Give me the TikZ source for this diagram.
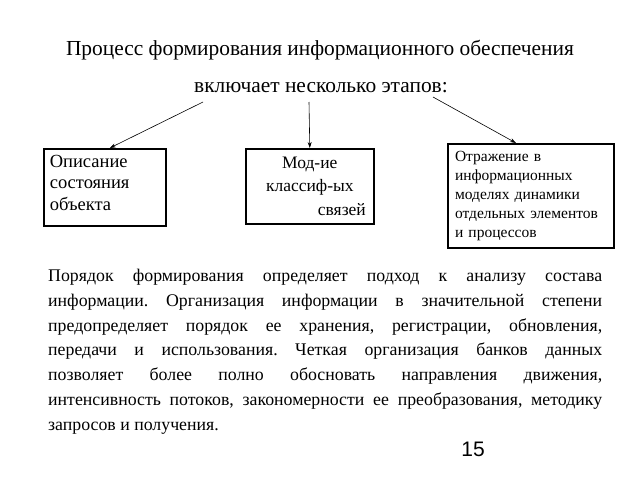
\documentclass[tikz,border=0pt]{standalone}
\usepackage{fontspec}
\setmainfont{Liberation Serif}
\newfontfamily\pagenumfont{Liberation Sans}
\usepackage{tikz}
\usetikzlibrary{arrows.meta, positioning}

\tikzset{
  stagebox/.style={rectangle, draw, line width=1.6pt, anchor=north west, inner sep=6pt, align=left},
  stagearrow/.style={-{Stealth[length=6pt,width=4pt]}, line width=0.6pt}
}

\begin{document}
\frenchspacing
\begin{tikzpicture}[x=1pt, y=-1pt]
    \useasboundingbox (0,0) rectangle (640,480);

    % Heading
    \node[font=\fontsize{21.4}{26}\selectfont] (title) at (320,50) {Процесс формирования информационного обеспечения};
    \node[font=\fontsize{21.4}{26}\selectfont] (stages) at (321,88) {включает несколько этапов:};

    % Stages
    \node[stagebox, minimum width=122pt, minimum height=77pt, text width=110pt,
          font=\fontsize{18.5}{21.5}\selectfont] (descr) at (43,148)
        {Описание\\состояния\\объекта\rule[-10pt]{0pt}{10pt}};
    \node[stagebox, minimum width=128pt, minimum height=75pt, text width=112pt, align=center,
          font=\fontsize{17.5}{23.5}\selectfont] (model) at (245,148)
        {Мод-ие\\классиф-ых\\\hfill связей};
    \node[stagebox, line width=2pt, minimum width=166pt, minimum height=104pt, text width=152pt,
          font=\fontsize{15.5}{19}\selectfont] (reflect) at (447,143)
        {Отражение в\\информационных\\моделях динамики\\отдельных элементов\\и процессов};

    % Arrows from the heading
    \coordinate (s1) at (203,102);
    \coordinate (s2) at (309,102);
    \coordinate (s3) at (433,97);
    \draw[stagearrow] (s1) -- ([xshift=5pt]descr.north);
    \draw[stagearrow] (s2) -- (model.north);
    \draw[stagearrow] (s3) -- ([xshift=-15pt]reflect.north);

    % Body text
    \node[anchor=north west, inner sep=0pt, text width=554pt, align=justify,
          font=\fontsize{17.8}{24.8}\selectfont] (body) at (48,269)
        {Порядок формирования определяет подход к анализу состава\linebreak
         информации. Организация информации в значительной степени\linebreak
         предопределяет порядок ее хранения, регистрации, обновления,\linebreak
         передачи и использования. Четкая организация банков данных\linebreak
         позволяет более полно обосновать направления движения,\linebreak
         интенсивность потоков, закономерности ее преобразования, методику\linebreak
         запросов и получения.};

    % Page number
    \node[font=\pagenumfont\fontsize{21}{24}\selectfont] (pagenum) at (473,449) {15};
\end{tikzpicture}
\end{document}
